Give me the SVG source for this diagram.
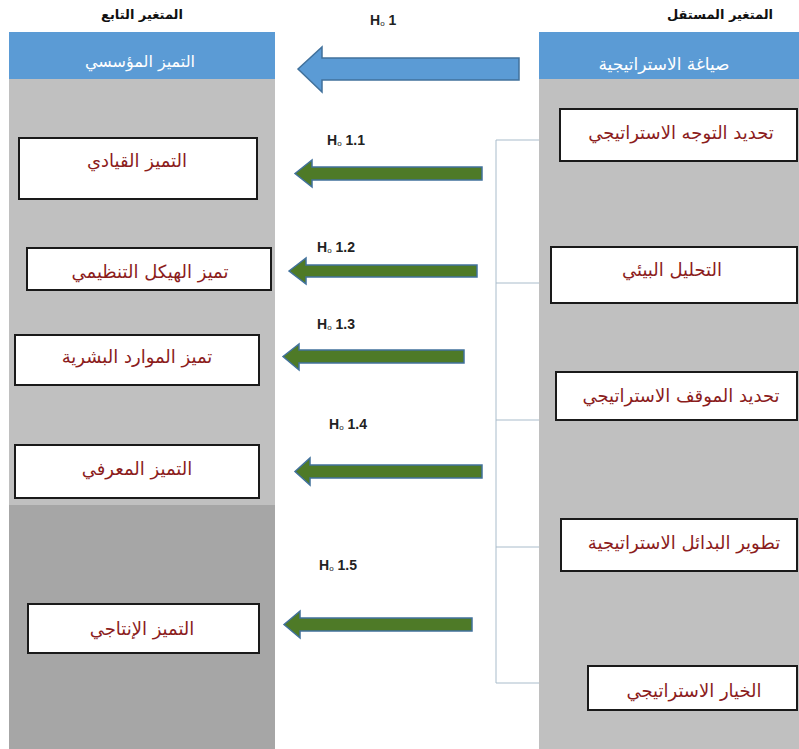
<svg xmlns="http://www.w3.org/2000/svg" width="799" height="749" viewBox="0 0 799 749">
<style>
.title{font-family:"DejaVu Sans",sans-serif;font-size:13px;font-weight:bold;fill:#111;text-anchor:middle}
.head{font-family:"DejaVu Sans",sans-serif;fill:#fff;text-anchor:middle}
.box{fill:#fff;stroke:#1a1a1a;stroke-width:2}
.lbl{font-family:"DejaVu Sans",sans-serif;font-size:18px;fill:#8b1c1c;text-anchor:middle}
.hyp{font-family:"Liberation Sans",Arial,sans-serif;font-size:14px;font-weight:bold;fill:#222}
.sub{font-size:8px;font-weight:normal}
.green{fill:#4e7a27;stroke:#41719c;stroke-width:1.5}
.blue{fill:#5b9bd5;stroke:#41719c;stroke-width:1.5}
.link{fill:none;stroke:#a9bccb;stroke-width:1}
</style>
<rect width="799" height="749" fill="#fff"/>
<!-- panels -->
<g id="panel-left">
<rect x="9" y="32" width="266" height="47" fill="#5b9bd5"/>
<rect x="9" y="79" width="266" height="426" fill="#c0c0c0"/>
<rect x="9" y="505" width="266" height="244" fill="#a6a6a6"/>
<text class="title" x="142" y="19">المتغير التابع</text>
<text class="head" x="140" y="67" font-size="16">التميز المؤسسي</text>
</g>
<g id="panel-right">
<rect x="539" y="32" width="260" height="47" fill="#5b9bd5"/>
<rect x="539" y="79" width="260" height="670" fill="#c0c0c0"/>
<text class="title" x="720" y="19">المتغير المستقل</text>
<text class="head" x="664" y="70" font-size="17">صياغة الاستراتيجية</text>
</g>
<!-- left nodes -->
<g id="n-leadership"><rect class="box" x="19" y="138" width="238" height="61"/><text class="lbl" x="137" y="167">التميز القيادي</text></g>
<g id="n-structure"><rect class="box" x="27" y="248" width="244" height="42"/><text class="lbl" x="150" y="278">تميز الهيكل التنظيمي</text></g>
<g id="n-hr"><rect class="box" x="15" y="335" width="244" height="50"/><text class="lbl" x="137" y="363">تميز الموارد البشرية</text></g>
<g id="n-knowledge"><rect class="box" x="15" y="445" width="244" height="53"/><text class="lbl" x="137" y="475">التميز المعرفي</text></g>
<g id="n-production"><rect class="box" x="28" y="604" width="231" height="49"/><text class="lbl" x="142" y="635">التميز الإنتاجي</text></g>
<!-- right nodes -->
<g id="n-orientation"><rect class="box" x="560" y="109" width="237" height="52"/><text class="lbl" x="681" y="139">تحديد التوجه الاستراتيجي</text></g>
<g id="n-environment"><rect class="box" x="551" y="247" width="246" height="56"/><text class="lbl" x="672" y="276">التحليل البيئي</text></g>
<g id="n-position"><rect class="box" x="556" y="372" width="241" height="48"/><text class="lbl" x="681" y="402">تحديد الموقف الاستراتيجي</text></g>
<g id="n-alternatives"><rect class="box" x="561" y="519" width="236" height="52"/><text class="lbl" x="684" y="549">تطوير البدائل الاستراتيجية</text></g>
<g id="n-choice"><rect class="box" x="588" y="666" width="209" height="44"/><text class="lbl" x="694" y="697">الخيار الاستراتيجي</text></g>
<!-- connectors -->
<g id="connectors">
<path class="link" d="M496,140 V683 M496,140 H539 M496,283 H539 M496,420 H539 M496,547 H539 M496,683 H539"/>
<polygon class="blue" points="298,69 322,47 322,58 519,58 519,80 322,80 322,92"/>
<polygon class="green" points="295,173.5 312,160 312,167 482,167 482,180 312,180 312,187"/>
<polygon class="green" points="289,271 306,258 306,265 477,265 477,277 306,277 306,284"/>
<polygon class="green" points="283,356.5 299,344 299,350 464,350 464,363 299,363 299,370"/>
<polygon class="green" points="295,471.5 310,458 310,465 482,465 482,478 310,478 310,485"/>
<polygon class="green" points="284,624.5 300,611 300,618 472,618 472,631 300,631 300,638"/>
<text class="hyp" x="370" y="25">H<tspan class="sub" dy="1">o</tspan><tspan dx="4" dy="-1">1</tspan></text>
<text class="hyp" x="327" y="145">H<tspan class="sub" dy="1">o</tspan><tspan dx="4" dy="-1">1.1</tspan></text>
<text class="hyp" x="317" y="252">H<tspan class="sub" dy="1">o</tspan><tspan dx="4" dy="-1">1.2</tspan></text>
<text class="hyp" x="317" y="329">H<tspan class="sub" dy="1">o</tspan><tspan dx="4" dy="-1">1.3</tspan></text>
<text class="hyp" x="329" y="429">H<tspan class="sub" dy="1">o</tspan><tspan dx="4" dy="-1">1.4</tspan></text>
<text class="hyp" x="319" y="570">H<tspan class="sub" dy="1">o</tspan><tspan dx="4" dy="-1">1.5</tspan></text>
</g>
</svg>
